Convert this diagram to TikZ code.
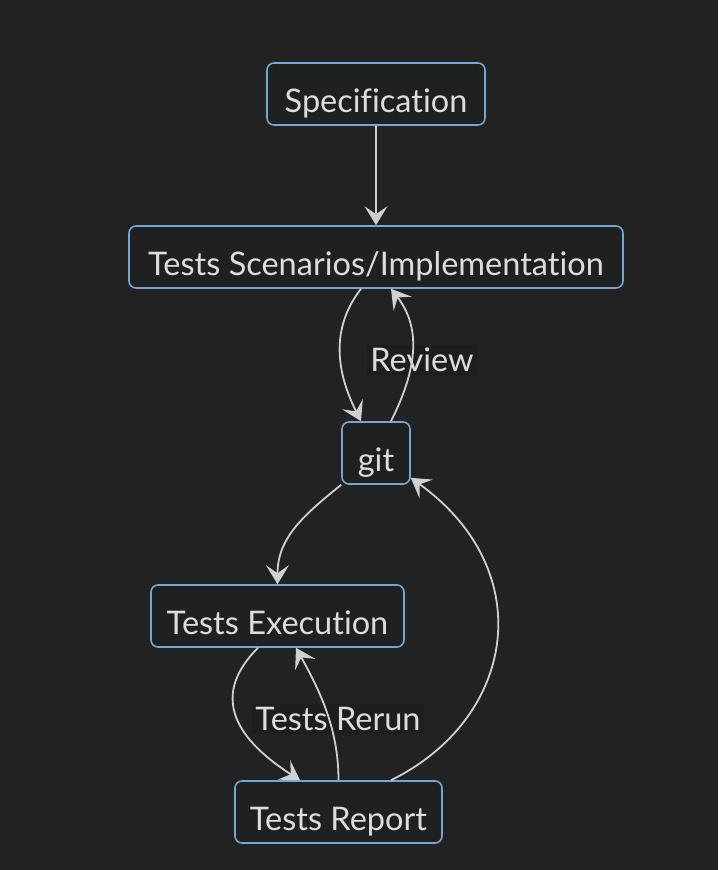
\documentclass[tikz,border=0pt]{standalone}
\usepackage{fontspec}
\setmainfont{Lato}[Ligatures=NoCommon]
\usetikzlibrary{positioning,arrows.meta,calc,shapes}
\definecolor{canvas}{HTML}{222222}
\definecolor{boxfill}{HTML}{1F2020}
\definecolor{boxline}{HTML}{76A6D4}
\definecolor{ink}{HTML}{DDDDDD}
\definecolor{wire}{HTML}{D0D0D0}
\definecolor{tagfill}{HTML}{1E1E1E}
\tikzset{
    stage/.style = {
        draw=boxline,
        fill=boxfill,
        text=ink,
        shape=rectangle,
        rounded corners=7pt,
        minimum height=62pt,
        text height=40pt,
        text depth=4pt,
        inner ysep=0pt,
        line width=1.6pt,
        font=\fontsize{32.5}{38}\selectfont
    },
    tag/.style = {
        fill=tagfill,
        text=ink,
        inner sep=3pt,
        font=\fontsize{32.5}{38}\selectfont
    },
    flow/.style = {
        draw=wire,
        line width=1.8pt
    },
    >={Stealth[length=19pt,width=23pt,inset=8pt]},
}

\begin{document}
\begin{tikzpicture}[x=1pt,y=-1pt]
            \fill[canvas] (0,0) rectangle (718,870);
            \useasboundingbox (0,0) rectangle (718,870);

            \node[stage, minimum width=218pt] (spec) at (376,94) {Specification};
            \node[stage, minimum width=494pt] (impl) at (376,257) {Tests Scenarios/Implementation};
            \node[stage, minimum width=68pt] (git) at (376,453) {git};
            \node[stage, minimum width=253pt] (exec) at (277.5,616) {Tests Execution};
            \node[stage, minimum width=207pt] (report) at (338.5,812) {Tests Report};

            \node[tag] (review) at (422,360) {Review};
            \node[tag] (rerun) at (338,719) {Tests Rerun};

            \path[flow, ->] (spec.south) -- (impl.north);
            \path[flow, ->] ([xshift=-15pt]impl.south) .. controls +(-35,45) and +(-20,-40) .. ([xshift=-15pt]git.north);
            \path[flow, ->] ([xshift=15pt]git.north) .. controls +(20,-40) and +(35,45) .. ([xshift=15pt]impl.south);
            \path[flow, ->] (git.south west) .. controls +(-40,32) and +(0,-45) .. (exec.north);
            \path[flow, ->] ([xshift=-19.5pt]exec.south) .. controls +(-45,45) and +(-70,-45) .. ([xshift=-38.5pt]report.north);
            \path[flow, ->] (report.north) .. controls +(0,-50) and +(25,45) .. ([xshift=18.5pt]exec.south);
            \path[flow, ->] ([xshift=52.5pt]report.north) .. controls +(124,-61) and +(130,94) .. ([yshift=7pt]git.south east);
        \end{tikzpicture}
\end{document}
